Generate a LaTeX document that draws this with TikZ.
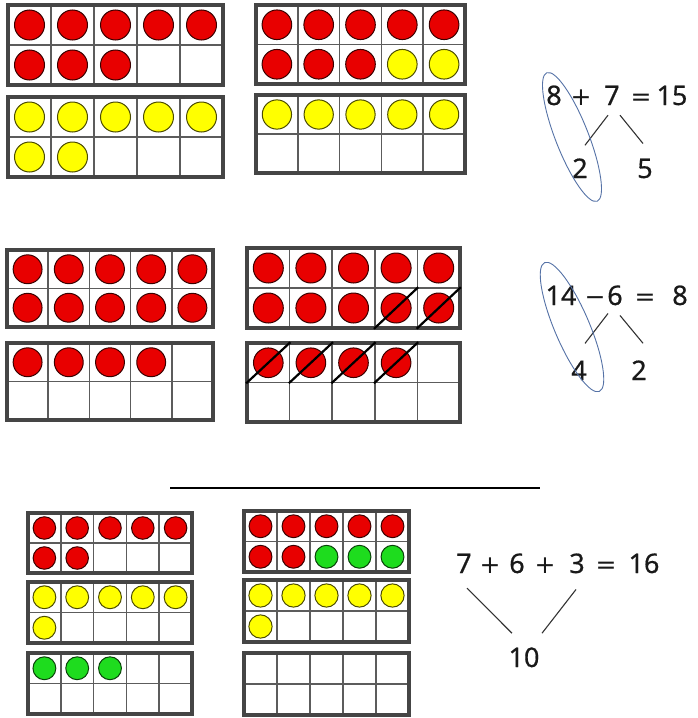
\documentclass[tikz,border=0pt]{standalone}
\usepackage{fontspec}
\usepackage{xcolor}
\usepackage{tikz}
\usetikzlibrary{shapes.geometric, positioning}

\newfontfamily\eqfont{Noto Sans}[FakeBold=0.6]
\newfontfamily\opfont{DejaVu Sans}

\definecolor{framegray}{HTML}{454545}
\definecolor{cellgray}{HTML}{5C5C5C}
\definecolor{dotred}{HTML}{E80000}
\definecolor{dotyellow}{HTML}{FFFF00}
\definecolor{dotgreen}{HTML}{1EDC1E}
\definecolor{ringblue}{HTML}{5572A6}

% ten-frame: name, x0, y0, x1, y1, list of ten dot styles
\newcommand{\tenframe}[6]{%
  \pgfmathsetmacro{\cellw}{(#4-#2)/5}%
  \pgfmathsetmacro{\cellh}{(#5-#3)/2}%
  \pgfmathsetmacro{\dotdiam}{0.75*min(\cellw,\cellh)}%
  \foreach \dotstyle [count=\i from 0] in {#6} {%
    \pgfmathtruncatemacro{\cellcol}{mod(\i,5)}%
    \pgfmathtruncatemacro{\cellrow}{\i/5}%
    \node[cell, minimum width=\cellw pt, minimum height=\cellh pt] (#1-\i)
      at ({#2+(\cellcol+0.5)*\cellw},{#3+(\cellrow+0.5)*\cellh}) {};
    \node[\dotstyle, minimum size=\dotdiam pt] (#1-\i-dot) at (#1-\i) {};
  }%
  \draw[frameline] (#2,#3) rectangle (#4,#5);
}

\begin{document}
\begin{tikzpicture}[x=1pt, y=-1pt,
    cell/.style={rectangle, draw=cellgray, line width=1.6pt, fill=white, inner sep=0pt},
    frameline/.style={draw=framegray, line width=3.2pt},
    rdot/.style={circle, fill=dotred, draw=black!75!dotred, line width=1pt, inner sep=0pt},
    ydot/.style={circle, fill=dotyellow, draw=black!70!dotyellow, line width=1pt, inner sep=0pt},
    gdot/.style={circle, fill=dotgreen, draw=black!70!dotgreen, line width=1pt, inner sep=0pt},
    nodot/.style={inner sep=0pt},
    slash/.style={line width=2.2pt, draw=black},
    split/.style={line width=1.1pt, draw=black!80},
    ring/.style={ellipse, draw=ringblue, line width=0.9pt, inner sep=0pt},
    eqtext/.style={font={\eqfont\fontsize{27}{30}\selectfont}, text=black!90,
                   inner sep=0pt, anchor=base},
    eqop/.style={font={\opfont\fontsize{25}{30}\selectfont}, text=black!90,
                 inner sep=0pt, anchor=base}
]
\useasboundingbox (0,0) rectangle (697,718);

% 8 + 7
\tenframe{A1}{8}{5}{223}{85}{rdot,rdot,rdot,rdot,rdot,rdot,rdot,rdot,nodot,nodot}
\tenframe{A2}{8}{97}{223}{177}{ydot,ydot,ydot,ydot,ydot,ydot,ydot,nodot,nodot,nodot}
\tenframe{B1}{256}{5}{465}{84}{rdot,rdot,rdot,rdot,rdot,rdot,rdot,rdot,ydot,ydot}
\tenframe{B2}{256}{95}{465}{173}{ydot,ydot,ydot,ydot,ydot,nodot,nodot,nodot,nodot,nodot}

\node[eqtext] (a8)    at (554,105) {8};
\node[eqop]   (aplus) at (581,105) {+};
\node[eqtext] (a7)    at (612,105) {7};
\node[eqop]   (aeq)   at (641,105) {=};
\node[eqtext] (a15)   at (672,105) {15};
\node[eqtext] (a2)    at (580,178) {2};
\node[eqtext] (a5)    at (645,178) {5};
\draw[split] ([shift={(-4,10)}]a7.south) -- ([shift={(5,-13)}]a2.north);
\draw[split] ([shift={(8,10)}]a7.south) -- ([shift={(-2,-15)}]a5.north);
\node[ring, rotate=21.4, minimum width=33pt, minimum height=138pt] (ringA) at (572,137) {};

% 14 - 6
\tenframe{C1}{7}{250}{213}{327}{rdot,rdot,rdot,rdot,rdot,rdot,rdot,rdot,rdot,rdot}
\tenframe{C2}{7}{343}{213}{420}{rdot,rdot,rdot,rdot,nodot,nodot,nodot,nodot,nodot,nodot}
\tenframe{D1}{247}{248}{460}{328}{rdot,rdot,rdot,rdot,rdot,rdot,rdot,rdot,rdot,rdot}
\tenframe{D2}{247}{343}{460}{422}{rdot,rdot,rdot,rdot,nodot,nodot,nodot,nodot,nodot,nodot}
\foreach \gone in {D1-8,D1-9,D2-0,D2-1,D2-2,D2-3}
  \draw[slash] (\gone.south west) -- (\gone.north east);

\node[eqtext] (b14)    at (561,305) {14};
\node[eqop]   (bminus) at (595,305) {−};
\node[eqtext] (b6)     at (615,305) {6};
\node[eqop]   (beq)    at (645,305) {=};
\node[eqtext] (b8)     at (680,305) {8};
\node[eqtext] (b4)     at (579,380) {4};
\node[eqtext] (b2)     at (639,380) {2};
\draw[split] ([shift={(-7,8)}]b6.south) -- ([shift={(6,-17)}]b4.north);
\draw[split] ([shift={(5,10)}]b6.south) -- ([shift={(4,-17)}]b2.north);
\node[ring, rotate=23, minimum width=35pt, minimum height=140pt] (ringB) at (572,327) {};

% separator
\coordinate (rule-l) at (170,488);
\coordinate (rule-r) at (540,488);
\draw[line width=1.3pt] (rule-l) -- (rule-r);

% 7 + 6 + 3
\tenframe{E1}{28}{513}{192}{573}{rdot,rdot,rdot,rdot,rdot,rdot,rdot,nodot,nodot,nodot}
\tenframe{E2}{28}{582}{192}{643}{ydot,ydot,ydot,ydot,ydot,ydot,nodot,nodot,nodot,nodot}
\tenframe{E3}{28}{653}{192}{714}{gdot,gdot,gdot,nodot,nodot,nodot,nodot,nodot,nodot,nodot}
\tenframe{F1}{244}{511}{409}{572}{rdot,rdot,rdot,rdot,rdot,rdot,rdot,gdot,gdot,gdot}
\tenframe{F2}{244}{580}{409}{642}{ydot,ydot,ydot,ydot,ydot,ydot,nodot,nodot,nodot,nodot}
\tenframe{F3}{244}{653}{409}{715}{nodot,nodot,nodot,nodot,nodot,nodot,nodot,nodot,nodot,nodot}

\node[eqtext] (c7)     at (464,573) {7};
\node[eqop]   (cplus1) at (490,573) {+};
\node[eqtext] (c6)     at (517,573) {6};
\node[eqop]   (cplus2) at (545,573) {+};
\node[eqtext] (c3)     at (577,573) {3};
\node[eqop]   (ceq)    at (606,573) {=};
\node[eqtext] (c16)    at (644,573) {16};
\node[eqtext] (c10)    at (524,667) {10};
\draw[split] ([shift={(3,15)}]c7.south) -- ([shift={(-12,-14)}]c10.north);
\draw[split] ([shift={(-1,16)}]c3.south) -- ([shift={(18,-14)}]c10.north);
\end{tikzpicture}
\end{document}
